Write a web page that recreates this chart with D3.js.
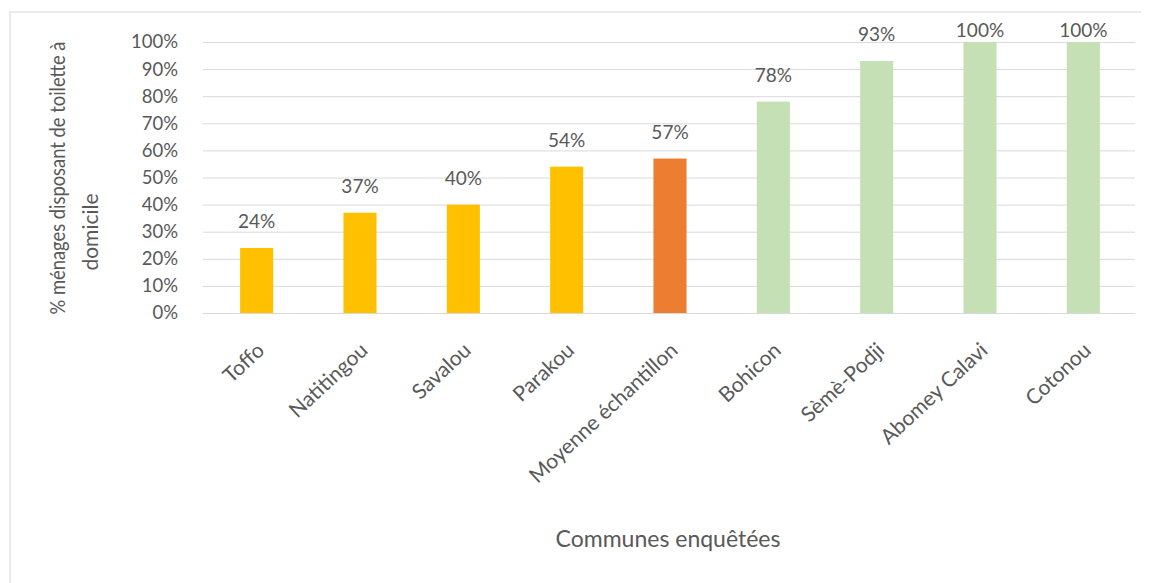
<!DOCTYPE html>
<html>
<head>
<meta charset="utf-8">
<script src="https://cdn.jsdelivr.net/npm/d3@7"></script>
<style>
  html, body { margin: 0; padding: 0; background: #fff; }
  svg { display: block; }
  text { font-family: Lato, "Open Sans", sans-serif; fill: #595959; }
</style>
</head>
<body>
<svg id="chart" width="1150" height="583"></svg>
<script>
// Communes surveyed and the share of households with a toilet at home
const communes = ["Toffo", "Natitingou", "Savalou", "Parakou", "Moyenne échantillon",
                  "Bohicon", "Sèmè-Podji", "Abomey Calavi", "Cotonou"];
const shares = [24, 37, 40, 54, 57, 78, 93, 100, 100];
const groups = ["low", "low", "low", "low", "mean", "high", "high", "high", "high"];
const yTicks = [0, 10, 20, 30, 40, 50, 60, 70, 80, 90, 100];

const palette = { low: "#FFC000", mean: "#ED7D31", high: "#C5E0B4" };
const FONT = "Lato, 'Open Sans', sans-serif";

const svg = d3.select("#chart");
const W = 1150, H = 583;
const m = { left: 205, right: 15, top: 42, bottom: 270 };

// outer frame (top and left edges)
const frame = svg.append("g").attr("stroke", "#ebebeb").attr("stroke-width", 2);
frame.append("line").attr("x1", 9).attr("x2", 1141).attr("y1", 12).attr("y2", 12);
frame.append("line").attr("x1", 10).attr("x2", 10).attr("y1", 12).attr("y2", H);

const x = d3.scaleBand().domain(communes)
  .range([m.left, W - m.right]).paddingInner(0.68).paddingOuter(0.34);
const y = d3.scaleLinear().domain([0, 100]).range([H - m.bottom, m.top]);

// horizontal gridlines
svg.append("g").selectAll("line").data(yTicks).join("line")
  .attr("x1", m.left - 2).attr("x2", W - m.right)
  .attr("y1", d => y(d) + 0.5).attr("y2", d => y(d) + 0.5)
  .attr("stroke", "#d9d9d9").attr("stroke-width", 1);

// y axis tick labels
const yAxis = d3.axisLeft(y).tickValues(yTicks).tickFormat(d => d + "%").tickSize(0).tickPadding(27);
const gy = svg.append("g").attr("transform", `translate(${m.left},0)`).call(yAxis);
gy.select(".domain").remove();
gy.selectAll("text").style("font-size", "18.5px").attr("fill", "#6f6f6f")
  .style("font-family", FONT);

// bars
svg.append("g").selectAll("rect").data(communes).join("rect")
  .attr("x", d => x(d))
  .attr("width", x.bandwidth())
  .attr("y", (d, i) => y(shares[i]))
  .attr("height", (d, i) => y(0) - y(shares[i]))
  .attr("fill", (d, i) => palette[groups[i]]);

// value labels
svg.append("g").selectAll("text").data(communes).join("text")
  .attr("x", d => x(d) + x.bandwidth() / 2)
  .attr("y", (d, i) => Math.max(y(shares[i]) - 20, 37))
  .attr("text-anchor", "middle")
  .style("font-size", "19px")
  .text((d, i) => shares[i] + "%");

// category labels, rotated
const xAxis = d3.axisBottom(x).tickSize(0).tickPadding(0);
const gx = svg.append("g").attr("transform", `translate(0,${y(0)})`).call(xAxis);
gx.select(".domain").remove();
gx.selectAll("text")
  .style("font-size", "21px").attr("fill", "#595959")
  .style("font-family", FONT)
  .attr("text-anchor", "end")
  .attr("dy", null).attr("y", 0)
  .attr("transform", "translate(9,39) rotate(-43)");

// axis titles
svg.append("text")
  .attr("x", 668).attr("y", 547)
  .attr("text-anchor", "middle")
  .style("font-size", "23px")
  .text("Communes enquêtées");

// y title: two rotated lines
svg.append("text")
  .attr("transform", "translate(65,178) rotate(-90)")
  .attr("text-anchor", "middle")
  .attr("textLength", 273).attr("lengthAdjust", "spacingAndGlyphs")
  .style("font-size", "21px")
  .text("% ménages disposant de toilette à");
svg.append("text")
  .attr("transform", "translate(98,232) rotate(-90)")
  .attr("text-anchor", "middle")
  .style("font-size", "21px")
  .text("domicile");
</script>
</body>
</html>
